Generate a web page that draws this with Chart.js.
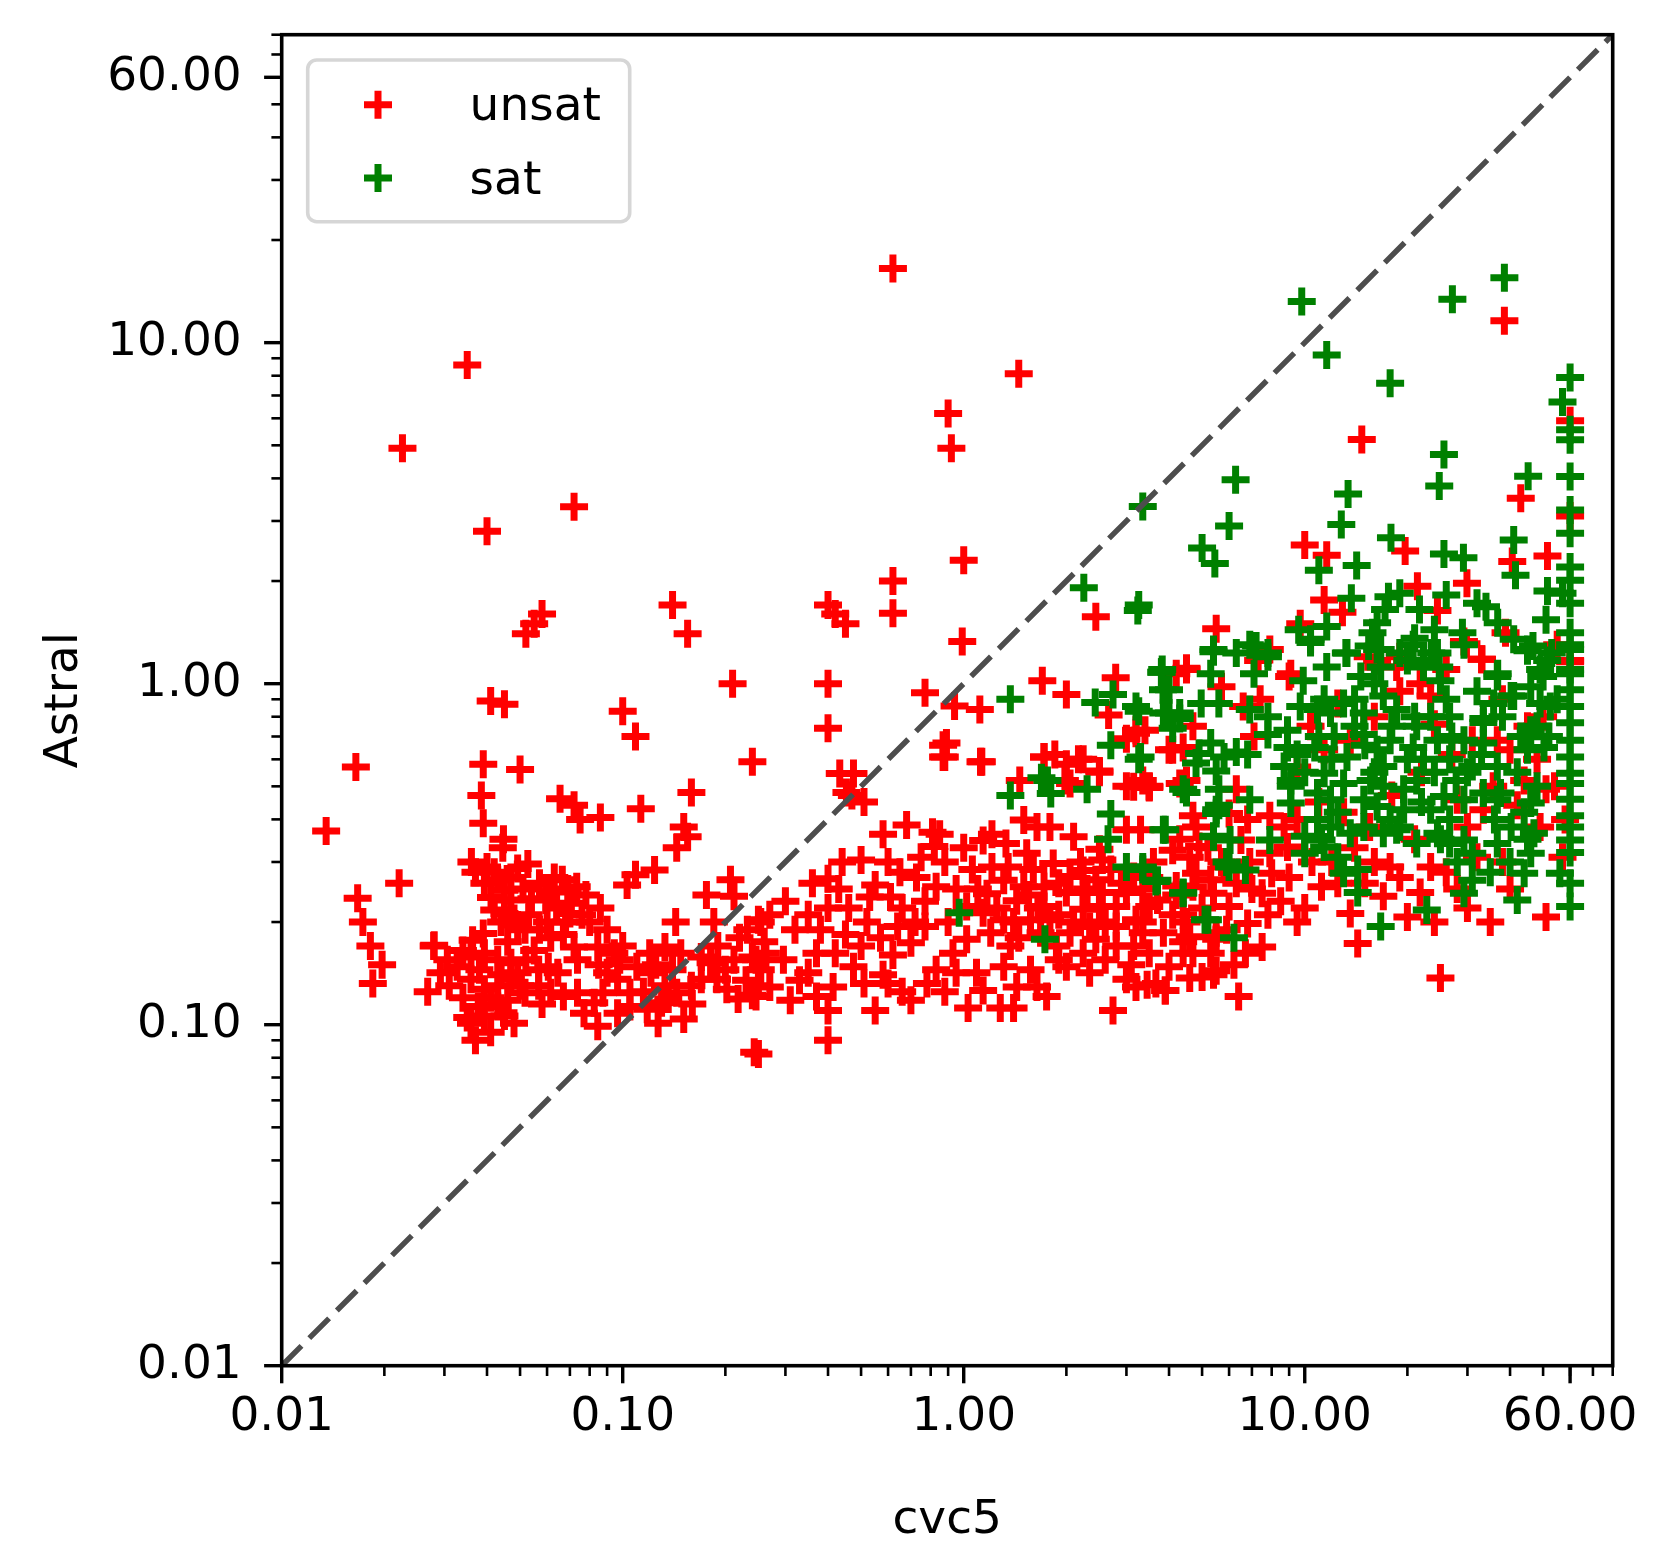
<!DOCTYPE html>
<html>
<head>
<meta charset="utf-8">
<script src="https://cdn.jsdelivr.net/npm/chart.js@4/dist/chart.umd.min.js"></script>
<style>
  html, body { margin: 0; padding: 0; background: #fff; }
  canvas { display: block; }
</style>
</head>
<body>
<canvas id="scatter" width="1677" height="1553" style="width:1677px;height:1553px"></canvas>
<script>
// cvc5 time (x) vs Astral time (y), seconds
const seriesNames = ['unsat', 'sat'];

const unsatPoints = [
  [0.0135,0.37],[0.0165,0.57],[0.0167,0.235],[0.0173,0.20],[0.0182,0.17],[0.0197,0.15],[0.0185,0.132],
  [0.0221,0.26],[0.0226,4.9],[0.028,0.171],[0.0268,0.125],[0.0306,0.155],
  [0.035,8.6],[0.040,2.8],[0.041,0.89],[0.045,0.87],[0.052,1.4],[0.055,1.5],[0.058,1.6],[0.072,3.3],
  [0.1,0.83],[0.14,1.7],[0.155,1.4],[0.21,1.0],
  [0.039,0.58],[0.050,0.56],[0.0385,0.47],[0.039,0.39],[0.0447,0.35],[0.0445,0.33],[0.0655,0.46],
  [0.072,0.44],[0.075,0.40],[0.086,0.405],[0.113,0.43],[0.159,0.48],[0.151,0.38],[0.155,0.356],
  [0.144,0.33],[0.24,0.59],[0.109,0.70],
  [0.037,0.28],[0.040,0.29],[0.0393,0.26],[0.043,0.266],[0.045,0.248],[0.0492,0.287],[0.0527,0.296],
  [0.0411,0.236],[0.047,0.232],[0.054,0.234],[0.0595,0.232],[0.0665,0.266],[0.0733,0.254],[0.0707,0.227],
  [0.070,0.212],[0.086,0.22],[0.103,0.257],[0.109,0.275],[0.124,0.284],[0.143,0.20],[0.176,0.24],
  [0.207,0.266],[0.212,0.238],[0.185,0.20],[0.254,0.20],[0.232,0.19],
  [0.042,0.217],[0.045,0.212],[0.0492,0.196],[0.0517,0.19],[0.060,0.20],[0.0615,0.18],[0.067,0.184],
  [0.072,0.169],[0.0737,0.155],[0.0845,0.169],[0.0945,0.162],[0.090,0.142],[0.0966,0.136],[0.12,0.162],
  [0.133,0.169],[0.148,0.162],[0.17,0.158],[0.181,0.152],[0.189,0.136],[0.212,0.155],[0.24,0.158],
  [0.254,0.145],[0.17,0.136],[0.159,0.13],[0.202,0.127],[0.218,0.119],[0.24,0.122],
  [0.0279,0.17],[0.0292,0.142],[0.0327,0.148],[0.0363,0.177],[0.0359,0.158],[0.0393,0.162],[0.043,0.155],
  [0.047,0.152],[0.0492,0.142],[0.0567,0.145],[0.0605,0.148],[0.0645,0.142],[0.0359,0.136],[0.0393,0.127],
  [0.043,0.13],[0.047,0.136],[0.0517,0.124],[0.0567,0.13],[0.0615,0.124],[0.067,0.121],[0.0737,0.124],
  [0.0377,0.113],[0.0393,0.106],[0.0359,0.101],[0.043,0.113],[0.045,0.106],[0.048,0.101],[0.041,0.095],
  [0.037,0.090],[0.0825,0.116],[0.077,0.108],[0.0845,0.099],[0.0966,0.108],[0.105,0.113],[0.118,0.111],
  [0.13,0.116],[0.127,0.101],[0.136,0.119],[0.151,0.104],[0.121,0.142],[0.11,0.148],[0.133,0.13],
  [0.144,0.124],[0.105,0.124],[0.0875,0.124],[0.243,0.083],
  [0.034,0.165],[0.038,0.145],[0.041,0.12],[0.046,0.118],[0.05,0.13],[0.034,0.12],[0.044,0.14],
  [0.052,0.155],[0.039,0.185],[0.046,0.175],[0.055,0.165],[0.058,0.115],[0.035,0.105],[0.031,0.13],
  [0.044,0.2],[0.048,0.205],[0.053,0.21],[0.057,0.19],[0.036,0.3],[0.042,0.28],[0.047,0.27],[0.051,0.25],
  [0.057,0.26],[0.062,0.245],[0.064,0.22],[0.068,0.2],[0.063,0.27],[0.069,0.25],[0.078,0.24],[0.076,0.21],
  [0.08,0.2],[0.09,0.19],[0.1,0.17],[0.098,0.155],[0.085,0.15],[0.125,0.15],[0.14,0.145],[0.115,0.125],
  [0.16,0.115],[0.19,0.17],[0.22,0.18],[0.2,0.145],[0.23,0.135],[0.26,0.175],[0.25,0.13],
  [0.40,0.74],[0.433,0.545],[0.475,0.545],[0.453,0.48],[0.51,0.45],[0.47,0.47],[0.87,0.66],[0.87,0.61],
  [1.12,0.59],[0.58,0.362],[0.68,0.385],[0.81,0.367],[0.85,0.362],[0.82,0.333],[0.50,0.304],[0.44,0.30],
  [0.40,0.268],[0.35,0.21],[0.27,0.21],[0.25,0.203],[0.40,0.22],[0.46,0.22],[0.53,0.237],[0.61,0.237],
  [0.55,0.257],[0.65,0.28],[0.727,0.27],[0.83,0.254],[0.77,0.23],[0.64,0.194],[0.77,0.194],[0.70,0.174],
  [0.52,0.2],[0.45,0.184],[0.42,0.162],[0.37,0.162],[0.35,0.142],[0.296,0.155],[0.263,0.162],[0.246,0.155],
  [0.27,0.129],[0.246,0.121],[0.31,0.118],[0.37,0.121],[0.40,0.11],[0.414,0.129],[0.475,0.148],[0.51,0.132],
  [0.55,0.11],[0.6,0.132],[0.70,0.118],[0.78,0.132],[0.83,0.145],[0.93,0.162],[0.40,0.09],[0.25,0.082],
  [1.03,0.112],[1.14,0.126],[1.28,0.112],[1.4,0.112],[1.43,0.129],[1.64,0.129],[1.75,0.121],[1.57,0.145],
  [1.31,0.148],[1.09,0.142],[0.95,0.142],[1.02,0.178],[1.2,0.186],[1.37,0.17],[1.31,0.203],[1.14,0.213],
  [1.02,0.222],[1.17,0.242],[1.31,0.265],[1.43,0.231],[1.57,0.203],[1.68,0.186],[1.79,0.203],[1.72,0.222],
  [1.5,0.254],[1.6,0.285],[1.83,0.297],[1.21,0.29],[1.06,0.285],[1.14,0.347],[1.21,0.362],[1.33,0.34],
  [1.5,0.398],[1.64,0.38],[1.79,0.38],[2.1,0.356],[1.53,0.318],[1.72,0.254],[2.0,0.244],[2.05,0.272],
  [2.24,0.244],[2.44,0.266],[2.55,0.244],[2.24,0.218],[2.5,0.222],[2.8,0.222],[3.0,0.244],[3.15,0.272],
  [3.35,0.25],[3.5,0.222],[3.2,0.203],[2.8,0.194],[2.34,0.194],[2.05,0.186],[1.87,0.17],[2.0,0.148],
  [2.24,0.162],[2.44,0.178],[2.8,0.17],[3.15,0.17],[3.35,0.186],[3.5,0.162],[2.34,0.142],[2.74,0.11],
  [3.0,0.136],[3.2,0.129],[3.66,0.132],[3.9,0.126],[4.6,0.137],[5.4,0.14],[4.4,0.162],[4.6,0.181],
  [5.3,0.162],[5.5,0.178],[4.4,0.21],[4.2,0.24],[4.7,0.254],[5.3,0.266],[2.55,0.304],[2.5,0.327],
  [2.24,0.283],[3.0,0.373],[3.15,0.499],[3.5,0.499],[3.35,0.52],[2.5,0.555],[2.24,0.6],[2.0,0.58],
  [1.72,0.61],[2.05,0.51],[3.2,0.715],[4.4,0.65],[4.7,0.75],[4.5,0.52],[4.7,0.41],[4.3,0.35],[4.9,0.333],
  [5.7,0.3],
  [1.1,0.25],[1.25,0.22],[1.4,0.2],[1.55,0.24],[1.65,0.22],[1.9,0.21],[2.1,0.2],[2.3,0.25],[2.6,0.2],
  [2.9,0.26],[1.9,0.26],[2.7,0.285],[2.2,0.3],[1.35,0.29],[1.45,0.18],[1.9,0.155],[2.6,0.155],[3.1,0.15],
  [0.9,0.2],[0.95,0.25],[0.88,0.3],[1.0,0.33],[0.32,0.19],[0.38,0.19],[0.43,0.25],[0.5,0.17],[0.57,0.18],
  [0.62,0.16],[0.66,0.22],[0.72,0.2],[0.58,0.14],[0.66,0.125],[0.88,0.125],[0.33,0.135],[0.3,0.23],
  [0.36,0.26],[0.6,0.3],[0.75,0.31],
  [4.5,1.1],[3.4,0.73],[4.0,0.64],[3.5,0.496],[4.3,0.51],[3.3,0.373],[4.1,0.325],[4.8,0.38],[6.5,0.348],
  [7.9,0.41],[6.9,0.3],[8.9,0.332],[8.0,0.278],[7.5,0.243],[6.0,0.222],[5.4,0.243],[4.8,0.278],[4.2,0.255],
  [3.7,0.232],[3.35,0.2],[3.85,0.186],[4.5,0.2],[5.5,0.186],[6.8,0.198],[7.8,0.21],[7.5,0.169],[6.7,0.162],
  [4.7,0.162],[4.0,0.148],[5.5,0.144],[3.45,0.131],[3.9,0.126],[6.4,0.121],[5.0,0.138],[9.5,0.2],[11.2,0.254],
  [13.6,0.212],[14.3,0.173],[17,0.238],[20,0.207],[21.8,0.244],[23.4,0.29],[17.8,0.29],[24,0.2],[25,0.137],
  [32,0.31],[51,0.207],[57,0.31],[49,0.38],[51,0.49],[44,0.52],[33.4,0.427],[35.7,0.5],[28,0.457],[31,0.683],
  [36.7,0.683],[24,0.76],[23.4,0.92],[21.8,1.0],[18.6,1.12],[15.3,1.2],[12.5,0.875],[13.6,0.683],[11.4,0.64],
  [10.4,0.75],[9.1,1.07],[7.3,1.17],[33,1.18],[29.3,1.33],[60,1.17],[50,0.8],[40,0.64],[55,1.3],[7.4,0.9],
  [5.7,0.98],[6.6,0.857],[7.1,0.7],[6.3,0.49],[6.0,0.416],[9.5,0.57],[8.7,0.38],[6.8,0.4],[7.9,0.318],
  [3.6,0.3],[4.6,0.31],[5.2,0.33],[5.8,0.29],[6.3,0.26],[7.0,0.25],[5.0,0.22],[4.1,0.21],[3.5,0.27],
  [5.9,0.19],[6.2,0.15],[4.4,0.175],[8.5,0.23],[9.0,0.27],[10.5,0.3],[12,0.3],[10,0.22],[12.5,0.26],
  [15,0.26],[16,0.3],[19,0.27],[26,0.28],[28,0.25],[21,0.35],[14,0.33],[9.5,0.4],[11,0.45],[13,0.42],
  [15.5,0.38],[18,0.47],[22,0.55],[27,0.62],[16,0.8],[19,0.95],[26,1.1],[38,0.9],[45,0.75],[30,0.38],
  [38,0.3],[42,0.44],[48,0.6],[54,0.5],[58,0.4],[40,0.25],[35,0.2],[30,0.22],
  [14.7,5.2],[43,3.5],[60,5.9],[60,3.1],[10,2.55],[11.6,2.38],[19.7,2.45],[40.6,2.28],[51.5,2.37],
  [29.9,1.97],[2.44,1.57],[5.5,1.45],[11.4,1.76],[12.9,1.62],[9.7,1.5],[21.4,1.93],[24.5,1.64],[38.8,1.41],
  [33.1,1.18],[4.5,1.11],[7.9,1.26],[9,1.05],[16.3,1.17],[19,1.2],[60,1.16],[1.7,1.02],[2.79,1.04],[29.8,1.31],
  [0.62,1.61],[0.99,1.33],[0.77,0.94],[0.94,0.86],[1.115,0.84],[0.89,0.67],[0.88,0.61],[1.13,0.59],
  [2.0,0.93],[2.66,0.81],[3.2,0.73],[3.0,0.69],[4.1,0.64],[1.72,0.61],[1.85,0.62],[2.17,0.6],[2.5,0.55],
  [1.46,0.52],[1.98,0.52],[3.0,0.5],[3.5,0.5],[4.2,1.07],
  [0.62,16.5],[0.9,6.2],[0.92,4.9],[1.0,2.3],[1.45,8.1],[0.62,2.0],[0.4,1.7],[0.42,1.6],[0.45,1.5],
  [0.4,1.0],[38.5,11.6]
];

const satPoints = [
  [9.8,13.2],[11.6,9.2],[17.8,7.6],[27.1,13.4],[38.5,15.5],[60,7.9],[57,6.7],
  [3.35,3.31],[6.27,3.96],[6.0,2.9],[5.0,2.5],[5.45,2.25],[2.25,1.91],[3.24,1.64],[13.4,3.6],[12.8,2.93],
  [25.6,4.7],[24.8,3.8],[45.2,4.06],[17.9,2.68],[25.6,2.4],[29.2,2.34],[41,2.64],[41.5,2.08],[14.2,2.22],
  [11,2.15],[13.7,1.78],[51.5,1.87],
  [60,5.55],[60,5.19],[60,4.05],[60,3.23],[60,2.76],[60,2.2],[60,2.01],[60,1.72],[60,1.41],[60,1.26],[60,1.1],
  [57,1.84],[51,1.54],[45,1.26],[41,1.35],[36.8,1.07],[32,1.72],[36.8,1.51],[29,1.41],[26,1.82],[24,1.44],
  [21.7,1.65],[21,1.36],[19,1.84],[17.6,1.8],[17.2,1.65],[16.3,1.51],[15.8,1.41],[15.4,1.29],[16.7,1.26],
  [13.2,1.23],[11.6,1.47],[10.4,1.35],[9.6,1.44],[7.2,1.29],[7.8,1.23],[5.4,1.26],[3.82,1.1],[19,1.23],
  [23.5,1.23],[24.8,1.12],[22.3,1.12],[20,1.17],[34,1.68],[46.7,1.29],[53,1.23],
  [1.37,0.9],[3.26,1.7],[3.8,1.08],[2.74,0.93],[2.43,0.88],[3.26,0.83],[4.0,0.96],[4.0,0.82],[4.3,0.79],
  [2.7,0.66],[3.26,0.6],[1.69,0.53],[1.76,0.52],[1.37,0.47],[2.3,0.49],
  [1.8,0.476],[2.7,0.415],[2.65,0.35],[3.9,0.373],[3.0,0.29],[3.35,0.285],[3.66,0.263],[4.4,0.244],
  [5.2,0.203],[0.97,0.213],[1.73,0.178],[4.1,0.74],[4.9,0.624],[4.5,0.48],[5.5,0.555],[5.5,0.427],
  [5.4,0.356],[5.6,0.44],[5.9,0.3],
  [5.4,1.24],[6.9,1.3],[7.8,1.2],[10.4,1.32],[13.3,1.23],[16.3,1.26],[20.8,1.3],[24.5,1.23],[29.3,1.3],
  [45,1.25],[51.4,1.17],[60,1.3],
  [60,1.07],[60,0.96],[60,0.857],[60,0.768],[60,0.683],[60,0.61],[60,0.546],[60,0.51],[60,0.458],
  [60,0.41],[60,0.38],[60,0.348],[60,0.32],[60,0.26],[60,0.222],
  [3.8,1.08],[3.84,0.96],[5.3,1.07],[4.97,0.875],[5.6,0.875],[3.2,0.857],[3.3,0.61],[3.85,0.82],[4.3,0.82],
  [7.1,1.07],[6.9,0.84],[7.8,0.8],[9.9,1.02],[11.6,1.12],[11.4,0.9],[14.6,1.05],[16.7,1.12],[22.3,1.17],
  [25,1.02],[36.7,1.05],[41,0.92],[49,1.1],[49,0.875],[46,0.73],[50.3,0.65],[43,0.7],[33.4,0.77],[33.4,0.67],
  [29.3,0.683],[26.6,0.8],[23.4,0.8],[21.3,0.75],[18.6,0.84],[17,0.92],[14.9,0.82],[13,0.875],[11.9,0.82],
  [10.9,0.84],[9.7,0.857],[8.9,0.73],[8.9,0.65],[7.8,0.71],[6.8,0.62],[6.3,0.63],[5.8,0.61],[5.3,0.67],
  [4.8,0.585],[4.4,0.49],[5.6,0.49],[6.9,0.457],[5.5,0.416],[6.04,0.348],[5.4,0.357],[3.85,0.373],[7.9,0.348],
  [6.7,0.284],[6.0,0.29],[3.35,0.29],[3.7,0.265],[4.4,0.243],[5.1,0.203],[6.2,0.18],[9.1,0.52],[9.1,0.447],
  [8.7,0.572],[9.5,0.62],[10.7,0.65],[11.4,0.546],[10.9,0.478],[11.9,0.457],[13,0.51],[13.3,0.61],[12.2,0.7],
  [14.9,0.71],[16.3,0.64],[17.8,0.683],[17,0.572],[15.6,0.52],[14.9,0.457],[16.3,0.436],[17.8,0.4],
  [19.5,0.427],[19.5,0.49],[21.3,0.52],[22.3,0.6],[20.8,0.65],[24.5,0.683],[26.6,0.6],[27.8,0.52],
  [25.6,0.467],[23.4,0.427],[26.6,0.4],[29.3,0.457],[33.4,0.478],[36.7,0.457],[40.3,0.38],[46,0.447],
  [45,0.64],[36.7,0.572],[31,0.572],[18.6,0.373],[17,0.364],[14.9,0.38],[13.6,0.364],[11.9,0.38],
  [10.9,0.4],[10,0.357],[10,0.318],[11.4,0.332],[12.5,0.31],[14.3,0.285],[13,0.278],[14.3,0.244],
  [11.2,0.348],[21.3,0.34],[24.5,0.364],[26.6,0.34],[29.3,0.348],[31,0.318],[36.7,0.34],[44,0.278],
  [46,0.318],[47,0.364],[31,0.265],[29.3,0.243],[22.8,0.217],[16.7,0.194],[42,0.232],[56,0.278],
  [37.5,0.478],[33.4,0.79],[35.8,0.875],[40.3,0.92],[46,0.98],[48,0.75],[52.5,0.857],[6.3,1.23],[9.1,0.5],
  [12,0.6],[14,0.75],[16,0.55],[18,0.75],[20,0.6],[22,0.45],[24,0.55],[27,0.7],[30,0.55],[33,0.62],
  [36,0.4],[12.5,0.42],[15,0.66],[19,0.38],[25,0.35],[28,0.3],[17,0.5],[21,0.8],[11,0.7],[10,0.55],
  [14,0.9],[16,1.0],[26,0.9],[32,0.95],[38,0.8],[42,0.55],[44,0.42],[48,0.5],[52,0.7],[55,0.9],[50,1.05],
  [45,0.35],[40,0.3],[35,0.28]
];

const tickValues = [0.01, 0.1, 1, 10, 60];
const axisRange = [0.01, 80];
const diagonal = [0.01, 80];

const FONT = 'DejaVu Sans';
const FS = 47;

function toXY(pairs) {
  return pairs.map(p => ({ x: p[0], y: p[1] }));
}

// minor tick positions on a log axis (2..9 times each decade)
function minorTicks() {
  const out = [];
  for (let e = -2; e <= 1; e++) {
    for (let m = 2; m <= 9; m++) {
      const v = m * Math.pow(10, e);
      if (v <= axisRange[1]) out.push(v);
    }
  }
  return out;
}

const axisDecor = {
  id: 'axisDecor',
  afterDraw(chart) {
    const { ctx, chartArea: a, scales: { x, y } } = chart;
    ctx.save();
    ctx.strokeStyle = '#000';
    ctx.lineCap = 'butt';

    // minor ticks
    ctx.lineWidth = 2.6;
    for (const v of minorTicks()) {
      const px = x.getPixelForValue(v);
      ctx.beginPath(); ctx.moveTo(px, a.bottom); ctx.lineTo(px, a.bottom + 10.3); ctx.stroke();
      const py = y.getPixelForValue(v);
      ctx.beginPath(); ctx.moveTo(a.left, py); ctx.lineTo(a.left - 10.3, py); ctx.stroke();
    }
    // major ticks
    ctx.lineWidth = 3.4;
    for (const v of tickValues) {
      const px = x.getPixelForValue(v);
      ctx.beginPath(); ctx.moveTo(px, a.bottom); ctx.lineTo(px, a.bottom + 17.6); ctx.stroke();
      const py = y.getPixelForValue(v);
      ctx.beginPath(); ctx.moveTo(a.left, py); ctx.lineTo(a.left - 17.6, py); ctx.stroke();
    }

    // frame
    ctx.lineWidth = 3.6;
    ctx.strokeRect(a.left, a.top, a.right - a.left, a.bottom - a.top);

    // axis titles
    ctx.fillStyle = '#000';
    ctx.font = FS + 'px "' + FONT + '"';
    ctx.textAlign = 'center';
    ctx.textBaseline = 'alphabetic';
    ctx.fillText('cvc5', (a.left + a.right) / 2, 1533);
    ctx.save();
    ctx.translate(77, (a.top + a.bottom) / 2);
    ctx.rotate(-Math.PI / 2);
    ctx.fillText('Astral', 0, 0);
    ctx.restore();

    // legend box
    const lx = 307.7, ly = 60, lw = 322, lh = 161.7, r = 9;
    ctx.beginPath();
    ctx.roundRect(lx, ly, lw, lh, r);
    ctx.fillStyle = 'rgba(255,255,255,0.8)';
    ctx.fill();
    ctx.lineWidth = 3.6;
    ctx.strokeStyle = '#d6d6d6';
    ctx.stroke();

    const rows = [104.7, 178];
    chart.data.datasets.filter(d => d.type === 'scatter').forEach((d, i) => {
      const cy = rows[i];
      ctx.strokeStyle = d.borderColor;
      ctx.lineWidth = d.borderWidth;
      ctx.beginPath();
      ctx.moveTo(378 - d.pointRadius, cy); ctx.lineTo(378 + d.pointRadius, cy);
      ctx.moveTo(378, cy - d.pointRadius); ctx.lineTo(378, cy + d.pointRadius);
      ctx.stroke();
      ctx.fillStyle = '#000';
      ctx.textAlign = 'left';
      ctx.fillText(d.label, 469.6, cy + 15.5);
    });
    ctx.restore();
  }
};

const logAxis = (pad, fit) => ({
  type: 'logarithmic',
  min: axisRange[0],
  max: axisRange[1],
  grid: { display: false, drawTicks: false, tickLength: 0 },
  border: { display: false },
  ticks: {
    color: '#000',
    font: { family: FONT, size: FS },
    padding: pad,
    autoSkip: false,
    maxRotation: 0,
    callback: v => Number(v).toFixed(2)
  },
  afterBuildTicks: s => { s.ticks = tickValues.map(v => ({ value: v })); },
  afterFit: s => {
    fit(s);
    // labels never overhang the plot edges here, so drop the auto padding
    s.paddingTop = 0; s.paddingBottom = 0; s.paddingLeft = 0; s.paddingRight = 0;
  }
});

new Chart(document.getElementById('scatter'), {
  data: {
    datasets: [
      {
        type: 'line',
        label: 'diag',
        data: diagonal.map(v => ({ x: v, y: v })),
        borderColor: '#4d4d4d',
        borderWidth: 5.5,
        borderDash: [28, 11],
        pointRadius: 0,
        fill: false,
        order: 0
      },
      {
        type: 'scatter',
        label: seriesNames[0],
        data: toXY(unsatPoints),
        pointStyle: 'cross',
        pointRadius: 14,
        borderWidth: 7,
        borderColor: '#ff0000',
        backgroundColor: '#ff0000',
        order: 2
      },
      {
        type: 'scatter',
        label: seriesNames[1],
        data: toXY(satPoints),
        pointStyle: 'cross',
        pointRadius: 14,
        borderWidth: 7,
        borderColor: '#008000',
        backgroundColor: '#008000',
        order: 1
      }
    ]
  },
  options: {
    responsive: false,
    devicePixelRatio: 1,
    animation: false,
    layout: { padding: { left: 0, top: 34.7, right: 64.3, bottom: 0 } },
    plugins: { legend: { display: false }, tooltip: { enabled: false } },
    scales: {
      x: Object.assign(logAxis(24, s => { s.height = 187.3; }), { position: 'bottom' }),
      y: Object.assign(logAxis(40, s => { s.width = 281.7; }), { position: 'left' })
    }
  },
  plugins: [axisDecor]
});
</script>
</body>
</html>
